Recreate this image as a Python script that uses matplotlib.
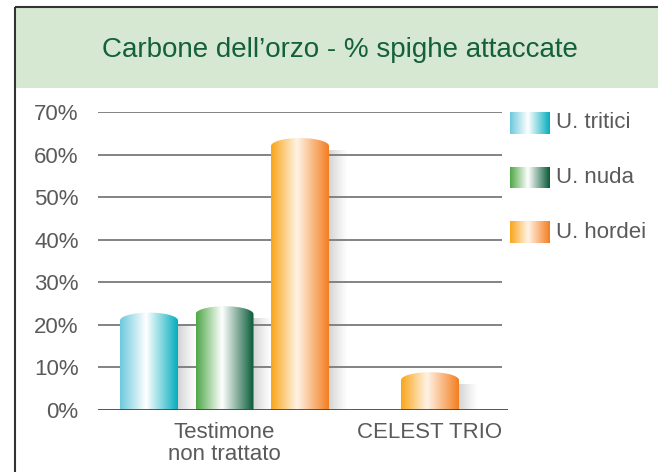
import matplotlib
matplotlib.use("Agg")
import matplotlib.pyplot as plt
import numpy as np
from matplotlib.colors import LinearSegmentedColormap
from matplotlib.patches import Rectangle, Polygon

# data
groups = ["Testimone\nnon trattato", "CELEST TRIO"]
series = ["U. tritici", "U. nuda", "U. hordei"]
values = {
    "U. tritici": [21, 0],
    "U. nuda": [22.5, 0],
    "U. hordei": [62, 7],
}
yticks = [0, 10, 20, 30, 40, 50, 60, 70]
title = "Carbone dell\u2019orzo - % spighe attaccate"

# gradient stops (left, highlight, right) per series
grad = {
    "U. tritici": ["#6cc9dc", "#ffffff", "#05adbf"],
    "U. nuda": ["#4ea747", "#ffffff", "#075a37"],
    "U. hordei": ["#f9a51a", "#fff3e6", "#f37e20"],
}

W, H = 658, 472
TXT = "#5a5a5a"
GREEN = "#14603a"
FONT = ["Liberation Sans", "DejaVu Sans"]

fig = plt.figure(figsize=(W / 100, H / 100), dpi=100)

# background / frame in pixel coordinates
bg = fig.add_axes([0, 0, 1, 1])
bg.set_xlim(0, W)
bg.set_ylim(H, 0)
bg.axis("off")
bg.add_patch(Rectangle((15, 7), W - 15, 81, facecolor="#d7e8d2", edgecolor="none"))
bg.plot([15, 15], [7, H], color="#333333", lw=1.5, solid_capstyle="butt")
bg.plot([15, W], [7, 7], color="#333333", lw=1.5, solid_capstyle="butt")
bg.text(340, 50, title, ha="center", va="center", color=GREEN,
        fontsize=20, family=FONT)


def cmap_for(name):
    c = grad[name]
    return LinearSegmentedColormap.from_list(name, [(0, c[0]), (0.45, c[1]), (1, c[2])])


# main axes
x0px, x1px, y0px, y1px = 98, 508, 410, 112
ax = fig.add_axes([x0px / W, (H - y0px) / H, (x1px - x0px) / W, (y0px - y1px) / H])
unit = 205.5  # px per group step
xl = (x0px - 224.5) / unit
xr = (x1px - 224.5) / unit
ax.set_xlim(xl, xr)
ax.set_ylim(0, 70)
for s in ax.spines.values():
    s.set_visible(False)
ax.patch.set_alpha(0)

grid_end = (502 - 224.5) / unit
ax.hlines(yticks[1:], xl, grid_end, color="#6e6e6e", lw=1.2, zorder=1)
ax.axhline(0, color=GREEN, lw=2, zorder=5)

bw = 58 / unit
step = 75.5 / unit
cap = 8 / ((y0px - y1px) / 70)
grad_img = np.linspace(0, 1, 256).reshape(1, -1)

for gi in range(len(groups)):
    present = [s for s in series if values[s][gi] > 0]
    n = len(present)
    for k, s in enumerate(present):
        v = values[s][gi]
        xc = gi + (k - (n - 1) / 2) * step
        a, b = xc - bw / 2, xc + bw / 2
        # soft shadow to the right
        sh = np.zeros((1, 64, 4))
        sh[..., :3] = 0.5
        sh[..., 3] = np.linspace(0.45, 0, 64) ** 1.2
        ax.imshow(sh, extent=(b - 0.01, b + 0.09, 0, v - cap * 0.5), aspect="auto",
                  zorder=2, interpolation="bilinear")
        # cylinder outline: rectangle + dome
        t = np.linspace(0, np.pi, 60)
        dome = np.column_stack([xc + bw / 2 * np.cos(t), v + cap * np.sin(t)])
        verts = np.vstack([[b, 0], [b, v], dome, [a, v], [a, 0]])
        clip = Polygon(verts, closed=True, facecolor="none", edgecolor="none")
        ax.add_patch(clip)
        im = ax.imshow(grad_img, cmap=cmap_for(s), extent=(a, b, 0, v + cap),
                       aspect="auto", zorder=3, interpolation="bilinear")
        im.set_clip_path(clip)

ax.set_xlim(xl, xr)
ax.set_ylim(0, 70)
ax.set_yticks(yticks)
ax.set_yticklabels([f"{t}%" for t in yticks])
ax.set_xticks(range(len(groups)))
ax.set_xticklabels(groups, linespacing=1.0)
ax.tick_params(length=0, labelsize=16, labelcolor=TXT, pad=14)
ax.tick_params(axis="x", pad=9)
for lab in ax.get_xticklabels() + ax.get_yticklabels():
    lab.set_family(FONT)

# legend with gradient swatches
for i, s in enumerate(series):
    yc = 123 + i * 54.5
    sw = Rectangle((510, yc - 11), 40, 22, facecolor="none", edgecolor="none")
    bg.add_patch(sw)
    im = bg.imshow(grad_img, cmap=cmap_for(s), extent=(510, 550, yc + 11, yc - 11),
                   aspect="auto", zorder=3, interpolation="bilinear")
    im.set_clip_path(sw)
    bg.text(556, yc, s, ha="left", va="center", color=TXT, fontsize=16, family=FONT)
bg.set_xlim(0, W)
bg.set_ylim(H, 0)

fig.savefig("out.png", dpi=100)
